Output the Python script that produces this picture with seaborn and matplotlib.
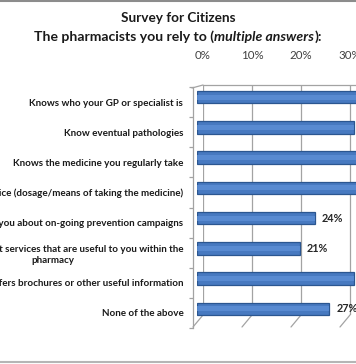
import matplotlib.pyplot as plt
import seaborn as sns

# data (values past ~33% run out of the picture, so those are guesses)
categories = [
    "Knows who your GP or specialist is",
    "Know eventual pathologies",
    "Knows the medicine you regularly take",
    "Gives advice (dosage/means of taking the medicine)",
    "Informs you about on-going prevention campaigns",
    "Informs you about services that are useful to you within the\npharmacy",
    "Offers brochures or other useful information",
    "None of the above",
]
values = [38, 32, 36, 35, 24, 21, 32, 27]
x_ticks = [0, 10, 20, 30, 40]
x_tick_labels = ["0%", "10%", "20%", "30%", "40%"]

sns.set_theme(style="white")
plt.rcParams['font.family'] = ['Lato', 'DejaVu Sans']

W, H = 356, 364
fig = plt.figure(figsize=(W / 100, H / 100), dpi=100)


def box(left, top, right, bottom):
    # pixel box -> figure fraction
    return [left / W, 1 - bottom / H, (right - left) / W, (bottom - top) / H]


grid_col = "#a3a3a3"
bar_col = "#4779c0"
edge_col = "#2b5690"
shine_col = "#5d8fd6"
xmax = 40
span = 196  # px for 0..40%

# back wall with the grid and the % scale on top
ax_wall = fig.add_axes(box(203, 85, 203 + span, 315))
ax_wall.set_xlim(0, xmax)
ax_wall.set_ylim(0, 1)
ax_wall.set_xticks(x_ticks)
ax_wall.set_xticklabels(x_tick_labels)
ax_wall.xaxis.tick_top()
ax_wall.tick_params(axis='x', length=0, pad=17, labelsize=8.3, labelcolor="#404040")
ax_wall.set_yticks([])
ax_wall.xaxis.grid(True, color=grid_col, lw=0.9)
for s in ['left', 'right', 'bottom']:
    ax_wall.spines[s].set_visible(False)
ax_wall.spines['top'].set_color(grid_col)
ax_wall.spines['top'].set_linewidth(0.9)
ax_wall.patch.set_alpha(0)
for t in x_ticks:
    ax_wall.annotate('', xy=(t, 0), xycoords=ax_wall.get_xaxis_transform(),
                     xytext=(-10, -12), textcoords='offset pixels',
                     arrowprops=dict(arrowstyle='-', color=grid_col, lw=0.9, shrinkA=0, shrinkB=0))
ax_wall.annotate('', xy=(0, 1), xycoords=ax_wall.get_xaxis_transform(),
                 xytext=(-11, -3), textcoords='offset pixels',
                 arrowprops=dict(arrowstyle='-', color=grid_col, lw=0.9, shrinkA=0, shrinkB=0))

# bars (cylinder look: darker body plus a softer lighter band)
ax = fig.add_axes(box(197, 82, 197 + span, 324))
sns.barplot(x=values, y=categories, color=bar_col, width=0.42, edgecolor=edge_col,
            linewidth=0.9, saturation=1, ax=ax)
sns.barplot(x=values, y=categories, color=shine_col, width=0.16, linewidth=0,
            saturation=1, alpha=0.8, ax=ax)
ax.set_xlim(0, xmax)
ax.set_ylim(len(categories) - 0.5, -0.5)
ax.bar_label(ax.containers[0], labels=[f"{v}%" for v in values], padding=5,
             fontsize=7.8, fontweight='bold', color="#262626")
ax.axis('off')

# front left axis with the category names
ax_front = fig.add_axes(box(193, 87, 200, 328))
ax_front.patch.set_alpha(0)
ax_front.set_ylim(len(categories) - 0.5, -0.5)
ax_front.set_yticks(range(len(categories)))
ax_front.set_yticklabels(categories)
ax_front.set_yticks([i - 0.5 for i in range(len(categories) + 1)], minor=True)
ax_front.tick_params(axis='y', which='major', length=0, pad=7, labelsize=7.15, labelcolor="#1a1a1a")
ax_front.tick_params(axis='y', which='minor', left=True, length=3, width=0.9, color=grid_col)
ax_front.set_xticks([])
for s in ['top', 'right', 'bottom']:
    ax_front.spines[s].set_visible(False)
ax_front.spines['left'].set_color(grid_col)
ax_front.spines['left'].set_linewidth(0.9)
for lbl in ax_front.get_yticklabels():
    lbl.set_fontweight('bold')
    lbl.set_multialignment('center')
    lbl.set_linespacing(1.35)

# title, second line mixes bold and bold italic
fig.text(0.5, 1 - 18 / H, "Survey for Citizens", ha='center', va='center',
         fontsize=9.8, fontweight='bold', color="#1a1a1a")
parts = [("The pharmacists you rely to (", 'normal'), ("multiple answers", 'italic'), ("):", 'normal')]
renderer = fig.canvas.get_renderer()
pieces = []
for txt, style in parts:
    t = fig.text(0, 1 - 37 / H, txt, ha='left', va='center', fontsize=10.1,
                 fontweight='bold', fontstyle=style, color="#1a1a1a")
    pieces.append((t, t.get_window_extent(renderer).width))
x = (W - sum(w for _, w in pieces)) / 2
for t, w in pieces:
    t.set_x(x / W)
    x += w

# chart frame (only top and bottom edges fall inside the crop)
fig.add_artist(plt.Line2D([0, 1], [1 - 1 / H, 1 - 1 / H], color="#8c8c8c", lw=1.5))
fig.add_artist(plt.Line2D([0, 1], [2 / H, 2 / H], color="#b5b5b5", lw=1.5))

fig.savefig("out.png", dpi=100)
